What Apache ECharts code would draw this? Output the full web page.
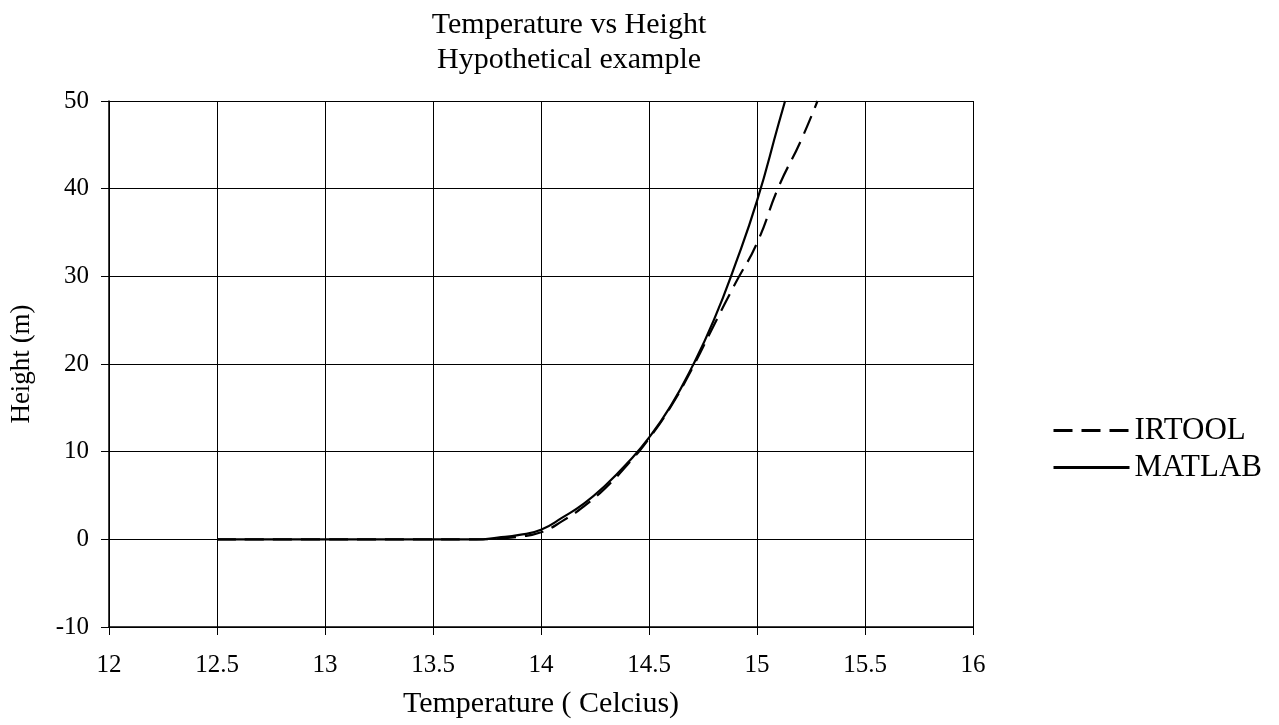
<!DOCTYPE html>
<html>
<head>
<meta charset="utf-8">
<script src="https://cdn.jsdelivr.net/npm/echarts@6/dist/echarts.min.js"></script>
<style>
	html,body{margin:0;padding:0;background:#fff;}
	#chart{width:1279px;height:725px;}
</style>
</head>
<body>
<div id="chart"></div>
<script>
	// 读图得到的数据
	var irtoolTemp = [12.5, 13.0, 13.5, 13.7, 13.8, 13.9, 14.0, 14.1, 14.2, 14.3, 14.4, 14.5, 14.6, 14.7, 14.8, 14.9, 15.0, 15.1, 15.2, 15.28];
	var irtoolHeight = [0, 0, 0, 0, 0.1, 0.3, 0.8, 2.1, 3.8, 5.9, 8.5, 11.5, 15.1, 19.5, 24.4, 29.2, 33.8, 40.2, 45.3, 50];
	var matlabTemp = [12.5, 13.0, 13.5, 13.7, 13.8, 13.9, 14.0, 14.1, 14.2, 14.3, 14.4, 14.5, 14.6, 14.7, 14.8, 14.9, 15.0, 15.1, 15.13];
	var matlabHeight = [0, 0, 0, 0, 0.2, 0.5, 1.1, 2.5, 4.1, 6.2, 8.7, 11.6, 15.2, 19.7, 25.0, 31.4, 38.6, 47.4, 50];

	var serif = '"Liberation Serif", "DejaVu Serif", serif';

	function pairs(xs, ys){
		var out = [];
		for (var i = 0; i < xs.length; i++) out.push([xs[i], ys[i]]);
		return out;
	}

	var myChart = echarts.init(document.getElementById('chart'));
	myChart.setOption({
		backgroundColor: '#fff',
		animation: false,
		title: {
			text: 'Temperature vs Height\nHypothetical example',
			left: 564,
			textAlign: 'center',
			top: 3,
			textStyle: { fontFamily: serif, fontSize: 30, fontWeight: 'normal', color: '#000', lineHeight: 35 }
		},
		legend: {
			orient: 'vertical',
			left: 1047,
			top: 410,
			itemWidth: 76,
			itemHeight: 3,
			itemGap: 6,
			lineStyle: { width: 3 },
			textStyle: { fontFamily: serif, fontSize: 31, color: '#000' },
			data: ['IRTOOL', 'MATLAB']
		},
		grid: { left: 108, right: 306, top: 101, bottom: 98 },
		xAxis: {
			type: 'value',
			min: 12,
			max: 16,
			interval: 0.5,
			name: 'Temperature ( Celcius)',
			nameLocation: 'middle',
			nameGap: 62,
			nameTextStyle: { fontFamily: serif, fontSize: 30, color: '#000' },
			axisLine: { onZero: false, lineStyle: { color: '#000', width: 1.5 } },
			axisTick: { length: 8, lineStyle: { color: '#000' } },
			axisLabel: { fontFamily: serif, fontSize: 25, color: '#000', margin: 26 },
			splitLine: { lineStyle: { color: '#000', width: 1 } }
		},
		yAxis: {
			type: 'value',
			min: -10,
			max: 50,
			interval: 10,
			name: 'Height (m)',
			nameLocation: 'middle',
			nameGap: 74,
			nameTextStyle: { fontFamily: serif, fontSize: 27, color: '#000' },
			axisLine: { show: true, lineStyle: { color: '#000', width: 1.5 } },
			axisTick: { show: true, length: 8, lineStyle: { color: '#000' } },
			axisLabel: { fontFamily: serif, fontSize: 25, color: '#000', margin: 20 },
			splitLine: { lineStyle: { color: '#000', width: 1 } }
		},
		series: [
			{
				name: 'IRTOOL',
				type: 'line',
				smooth: true,
				symbol: 'none',
				lineStyle: { color: '#000', width: 2.2, type: [19, 9] },
				itemStyle: { color: '#000' },
				data: pairs(irtoolTemp, irtoolHeight)
			},
			{
				name: 'MATLAB',
				type: 'line',
				smooth: true,
				symbol: 'none',
				lineStyle: { color: '#000', width: 2.2 },
				itemStyle: { color: '#000' },
				data: pairs(matlabTemp, matlabHeight)
			}
		]
	});
</script>
</body>
</html>
